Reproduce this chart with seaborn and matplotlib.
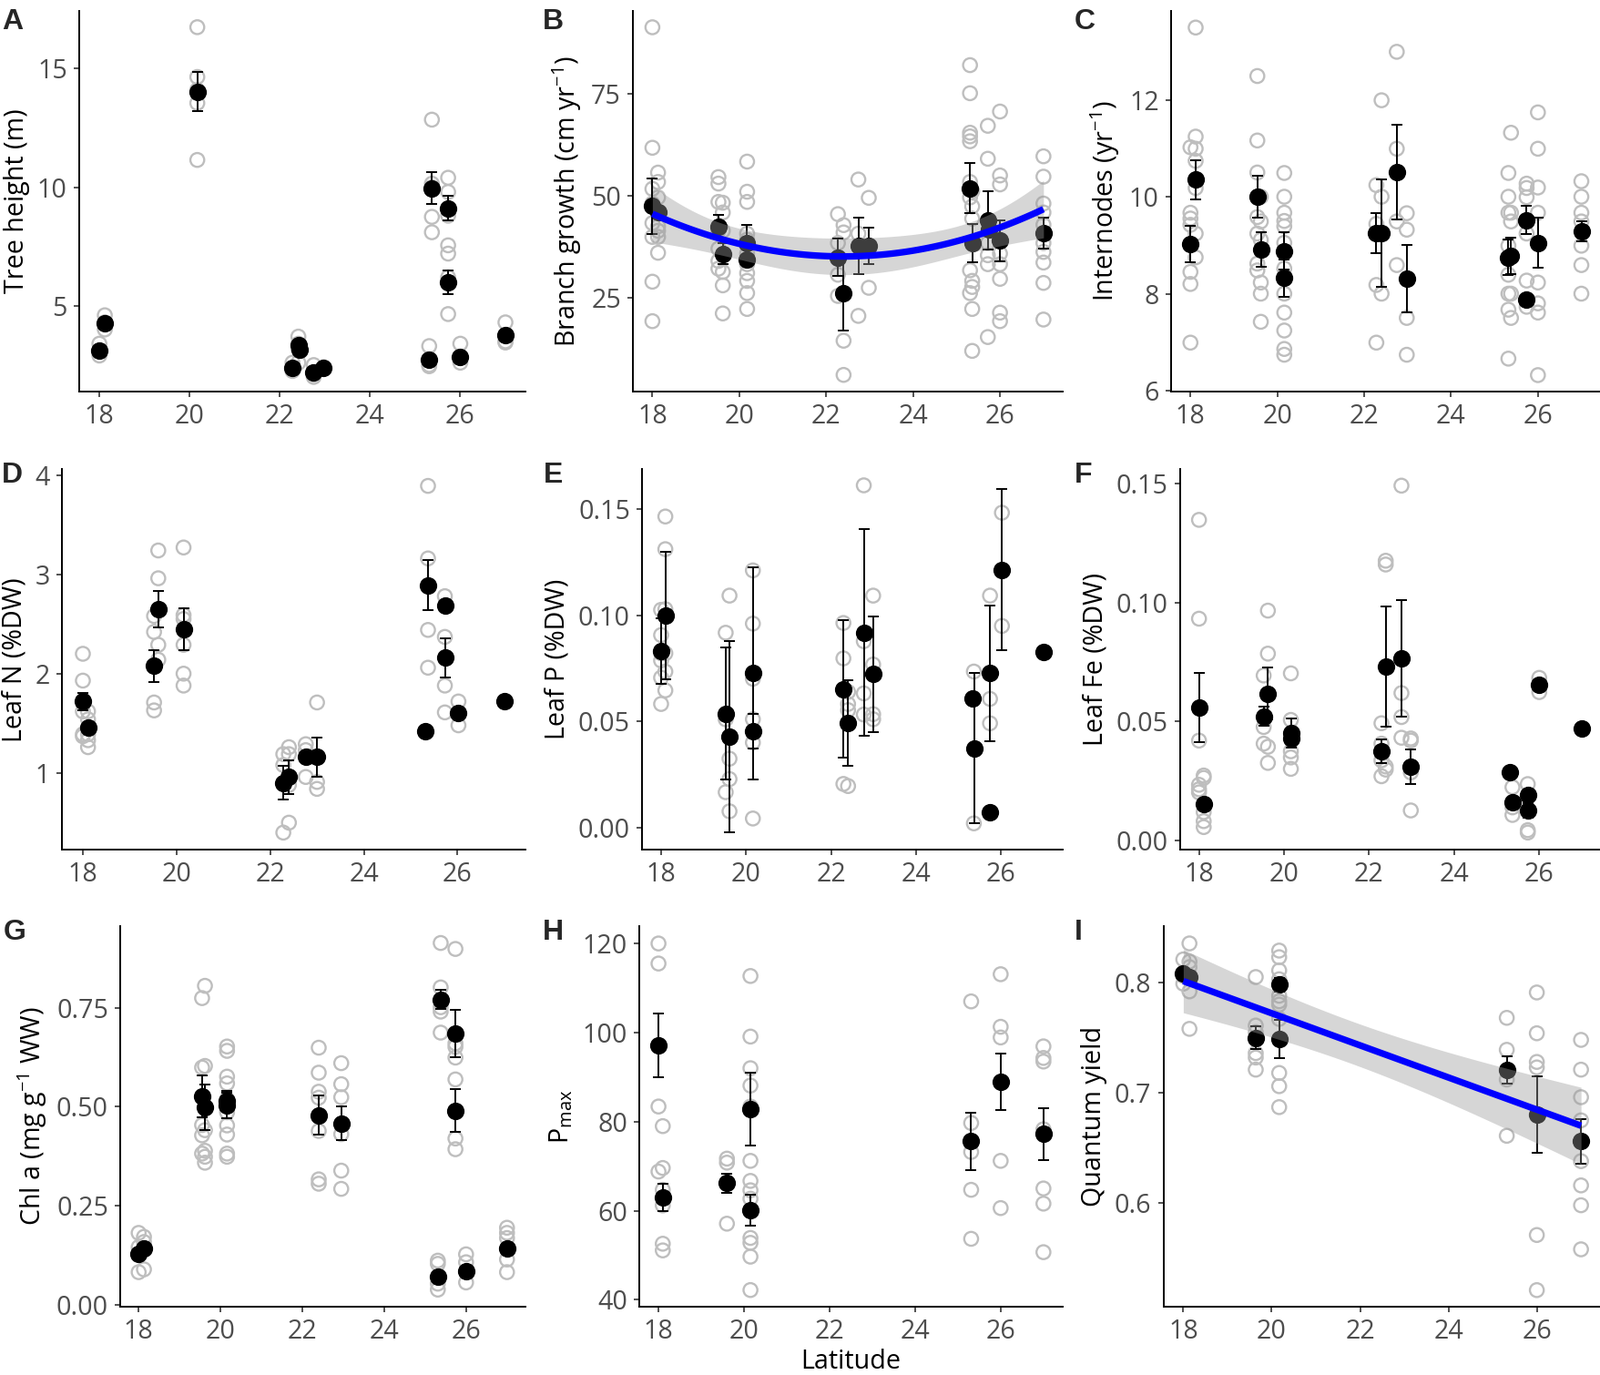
import math
import numpy as np
import pandas as pd
import matplotlib
matplotlib.use("Agg")
import matplotlib.pyplot as plt
import seaborn as sns

sns.set_style("ticks")
plt.rcParams["font.family"] = ["Open Sans", "DejaVu Sans"]
plt.rcParams["mathtext.default"] = "regular"

# ---------------- data ----------------
XTICKS = [18, 20, 22, 24, 26]

# A  Tree height
A_raw_lat = [18.0, 18.12, 20.17, 22.28, 22.41, 22.75, 22.97, 25.31, 25.37, 25.73, 26.0, 27.0]
A_raw = [[3.4, 3.1, 2.9], [4.6, 4.0, 4.3], [16.75, 14.65, 13.55, 11.15, 14.1],
         [2.6, 2.3, 2.25], [3.7, 3.4, 2.6, 3.2], [2.5, 2.1, 2.0], [2.35, 2.4],
         [3.3, 2.5, 2.45], [12.85, 10.15, 8.75, 8.1, 10.0],
         [10.4, 9.8, 8.8, 9.1, 7.55, 7.2, 6.2, 4.65, 6.0], [3.4, 2.6, 2.8], [4.3, 3.45, 3.5]]
A_mean_lat = [18.0, 18.12, 20.17, 22.28, 22.41, 22.43, 22.75, 22.97, 25.31, 25.37, 25.73, 25.73, 26.0, 27.0]
A_mean = [3.11, 4.26, 14.03, 2.38, 3.35, 3.15, 2.18, 2.37, 2.73, 9.96, 9.12, 5.99, 2.86, 3.75]
A_se = [0, 0, 0.83, 0, 0, 0, 0, 0, 0, 0.67, 0.5, 0.5, 0, 0]

# B  Branch growth
B_raw_lat = [18.0, 18.13, 19.52, 19.62, 20.18, 22.27, 22.4, 22.74, 22.98, 25.31, 25.36, 25.72, 26.0, 27.0]
B_raw = [[91.4, 61.8, 51.7, 48.1, 43.3, 39.9, 28.9, 19.2],
         [55.7, 53.4, 49.6, 45.9, 42.5, 41.4, 39.9, 36.0],
         [54.6, 53.0, 48.5, 41.4, 37.0, 34.0, 32.1],
         [48.3, 45.9, 41.4, 31.3, 28.0, 21.1],
         [58.4, 51.0, 48.5, 40.7, 39.2, 35.8, 33.2, 31.0, 29.1, 26.1, 22.2],
         [45.5, 38.4, 30.6, 25.4], [42.8, 41.0, 14.4, 6.0], [54.0, 40.7, 20.5], [49.5, 27.4],
         [82.1, 75.2, 65.5, 64.6, 63.4, 53.4, 49.6, 31.7, 26.1],
         [51.1, 47.4, 44.4, 29.1, 27.6, 22.2, 11.9],
         [67.2, 59.1, 38.4, 35.4, 33.2, 15.3],
         [70.7, 55.0, 52.8, 39.2, 35.8, 33.2, 29.6, 21.3, 19.2],
         [59.7, 54.7, 48.1, 45.9, 42.9, 38.4, 36.2, 33.6, 28.6, 19.6]]
B_mean_lat = [18.0, 18.13, 19.52, 19.62, 20.18, 20.18, 22.27, 22.4, 22.74, 22.98, 25.31, 25.36, 25.72, 25.75, 26.0, 27.0]
B_mean = [47.5, 46.0, 42.5, 35.8, 38.4, 34.3, 34.9, 26.0, 37.7, 37.7, 51.9, 38.4, 44.0, 41.8, 39.0, 40.8]
B_se = [6.8, 0, 2.9, 2.5, 4.4, 0, 4.5, 9.2, 6.9, 4.5, 6.1, 4.7, 7.2, 0, 5.0, 3.8]

# C  Internodes
C_raw_lat = [18.0, 18.12, 19.54, 19.62, 20.16, 22.28, 22.4, 22.75, 22.98, 25.32, 25.38, 25.74, 26.0, 27.0]
C_raw = [[11.02, 9.67, 9.55, 9.42, 9.02, 8.45, 8.2, 6.99],
         [13.49, 11.24, 10.99, 10.74, 10.18, 9.24, 8.75],
         [12.49, 11.16, 10.5, 10.0, 9.58, 9.24, 8.62, 8.48],
         [10.0, 9.49, 9.11, 8.23, 8.0, 7.42],
         [10.49, 10.0, 9.67, 9.5, 9.39, 9.05, 8.86, 8.52, 8.0, 7.61, 7.24, 6.86, 6.74],
         [10.24, 9.44, 8.18, 6.99], [11.99, 10.0, 8.0], [12.99, 10.99, 9.49, 8.59],
         [9.66, 9.32, 7.5, 6.74],
         [10.49, 10.0, 9.67, 8.99, 8.39, 8.0, 7.67, 6.66],
         [11.32, 9.67, 9.49, 8.0, 7.5],
         [10.27, 10.18, 9.99, 9.24, 8.27, 7.73],
         [11.74, 10.99, 10.19, 9.67, 8.23, 7.8, 7.61, 6.32],
         [10.32, 10.0, 9.67, 9.49, 8.99, 8.59, 8.0]]
C_mean_lat = [18.0, 18.12, 19.54, 19.62, 20.16, 20.16, 22.28, 22.4, 22.75, 22.98, 25.32, 25.38, 25.74, 25.74, 26.0, 27.0]
C_mean = [9.02, 10.35, 10.0, 8.91, 8.88, 8.32, 9.25, 9.25, 10.51, 8.31, 8.75, 8.78, 9.52, 7.87, 9.05, 9.29]
C_se = [0.38, 0.4, 0.43, 0.35, 0.38, 0.38, 0.42, 1.1, 0.97, 0.7, 0.36, 0.37, 0.29, 0, 0.52, 0.21]

# D  Leaf N
D_raw_lat = [18.0, 18.11, 19.52, 19.61, 20.15, 22.28, 22.4, 22.76, 23.0, 25.37, 25.73, 26.02]
D_raw = [[2.2, 1.93, 1.72, 1.62, 1.39, 1.37], [1.62, 1.54, 1.46, 1.39, 1.33, 1.26],
         [2.58, 2.42, 1.71, 1.63], [3.24, 2.96, 2.29, 2.14], [3.27, 2.59, 2.55, 2.29, 2.0, 1.88],
         [1.19, 1.08, 0.40], [1.26, 1.19, 0.88, 0.5], [1.29, 1.23, 0.96], [1.71, 0.91, 0.84],
         [3.89, 3.16, 2.44, 2.06], [2.78, 2.37, 1.88, 1.61], [1.72, 1.48]]
D_mean_lat = [18.0, 18.11, 19.52, 19.61, 20.15, 22.28, 22.4, 22.76, 23.0, 25.31, 25.37, 25.73, 25.73, 26.02, 27.0]
D_mean = [1.72, 1.46, 2.08, 2.65, 2.45, 0.90, 0.96, 1.16, 1.16, 1.42, 2.89, 2.69, 2.16, 1.6, 1.72]
D_se = [0.09, 0, 0.16, 0.18, 0.21, 0.17, 0.17, 0, 0.2, 0, 0.25, 0, 0.2, 0, 0]

# E  Leaf P
E_raw_lat = [18.0, 18.1, 19.52, 19.61, 20.16, 22.29, 22.4, 22.77, 22.99, 25.36, 25.74, 26.02]
E_raw = [[0.1026, 0.0907, 0.0821, 0.0787, 0.0706, 0.0582],
         [0.1466, 0.1312, 0.1029, 0.0821, 0.0735, 0.0646],
         [0.0918, 0.051, 0.0166], [0.1093, 0.0324, 0.0228, 0.0076],
         [0.1212, 0.0961, 0.0701, 0.051, 0.04, 0.0042],
         [0.0964, 0.0797, 0.0205], [0.0639, 0.0582, 0.0553, 0.0195],
         [0.1613, 0.0878, 0.0632, 0.0532], [0.1093, 0.0768, 0.0534, 0.051],
         [0.0735, 0.0019], [0.1093, 0.0606, 0.0491], [0.1484, 0.095]]
E_mean_lat = [18.0, 18.1, 19.52, 19.61, 20.16, 20.16, 22.29, 22.4, 22.77, 22.99, 25.33, 25.38, 25.74, 25.74, 26.02, 27.0]
E_mean = [0.0832, 0.100, 0.0537, 0.0428, 0.0728, 0.0454, 0.0653, 0.0493, 0.0918, 0.0722,
          0.0607, 0.0374, 0.0728, 0.0070, 0.1215, 0.0828]
E_se = [0.0155, 0.030, 0.031, 0.045, 0.050, 0.008, 0.0326, 0.0203, 0.0487, 0.0272,
        0, 0.0355, 0.032, 0, 0.038, 0]

# F  Leaf Fe
F_raw_lat = [18.0, 18.11, 19.52, 19.62, 20.16, 22.29, 22.39, 22.76, 22.98, 25.37, 25.73, 26.0]
F_raw = [[0.1348, 0.0932, 0.0419, 0.0233, 0.0214, 0.0201],
         [0.0272, 0.0262, 0.0118, 0.008, 0.0055],
         [0.0693, 0.0476, 0.0406], [0.0966, 0.0785, 0.0393, 0.0325],
         [0.0702, 0.0506, 0.0374, 0.0348, 0.03], [0.0492, 0.0406, 0.0336, 0.0269],
         [0.1176, 0.116, 0.031, 0.0297], [0.1492, 0.0619, 0.0518, 0.0431],
         [0.0428, 0.0419, 0.0285, 0.0125], [0.0223, 0.0138, 0.0106],
         [0.0236, 0.0042, 0.0032], [0.0683, 0.0623]]
F_mean_lat = [18.0, 18.11, 19.52, 19.62, 20.16, 20.16, 22.29, 22.39, 22.76, 22.98, 25.31, 25.37, 25.73, 25.73, 26.0, 27.0]
F_mean = [0.0557, 0.0153, 0.0521, 0.0617, 0.0451, 0.0428, 0.0374, 0.0732, 0.0764, 0.031,
          0.0285, 0.0159, 0.0191, 0.0125, 0.0655, 0.047]
F_se = [0.0146, 0, 0.004, 0.011, 0.006, 0, 0.0049, 0.0253, 0.0246, 0.0072, 0, 0, 0, 0.003, 0, 0]

# G  Chl a
G_raw_lat = [18.0, 18.13, 19.55, 19.62, 20.16, 22.4, 22.95, 25.31, 25.38, 25.74, 26.0, 27.0]
G_raw = [[0.182, 0.146, 0.128, 0.083], [0.172, 0.159, 0.142, 0.090],
         [0.774, 0.599, 0.527, 0.454, 0.428, 0.382],
         [0.805, 0.603, 0.441, 0.389, 0.374, 0.359],
         [0.652, 0.641, 0.576, 0.559, 0.519, 0.486, 0.453, 0.43, 0.382, 0.374],
         [0.649, 0.586, 0.538, 0.523, 0.439, 0.317, 0.306],
         [0.610, 0.557, 0.524, 0.431, 0.339, 0.293],
         [0.112, 0.104, 0.054, 0.039], [0.913, 0.801, 0.751, 0.74, 0.687],
         [0.898, 0.66, 0.651, 0.624, 0.569, 0.42, 0.393],
         [0.128, 0.108, 0.085, 0.057], [0.195, 0.182, 0.169, 0.142, 0.115, 0.083]]
G_mean_lat = [18.0, 18.13, 19.55, 19.62, 20.16, 20.16, 22.4, 22.95, 25.31, 25.38, 25.74, 25.74, 26.0, 27.0]
G_mean = [0.128, 0.142, 0.527, 0.498, 0.514, 0.504, 0.479, 0.458, 0.071, 0.770, 0.684, 0.490, 0.085, 0.142]
G_se = [0, 0, 0.053, 0.057, 0.025, 0.032, 0.049, 0.043, 0, 0.024, 0.06, 0.054, 0, 0]

# H  Pmax
H_raw_lat = [18.0, 18.1, 19.6, 20.15, 25.31, 26.0, 27.0]
H_raw = [[120.0, 115.5, 97.1, 83.4, 68.8], [79.0, 69.6, 64.7, 61.2, 52.6, 51.1],
         [71.7, 70.8, 66.2, 57.1],
         [112.7, 99.1, 92.0, 88.1, 83.4, 71.2, 66.7, 64.6, 62.7, 53.9, 52.8, 49.7, 42.2],
         [107.0, 79.7, 73.2, 64.7, 53.7], [113.1, 101.3, 98.9, 71.2, 60.6],
         [96.9, 94.3, 93.5, 78.3, 65.0, 61.6, 50.7]]
H_mean_lat = [18.0, 18.1, 19.6, 20.15, 20.15, 25.31, 26.0, 27.0]
H_mean = [97.1, 63.0, 66.2, 60.1, 82.8, 75.6, 89.0, 77.2]
H_se = [7.2, 3.1, 2.1, 3.5, 8.1, 6.4, 6.3, 5.9]

# I  Quantum yield
I_raw_lat = [18.0, 18.14, 19.64, 20.17, 25.32, 26.0, 27.0]
I_raw = [[0.821, 0.806, 0.799], [0.8355, 0.819, 0.814, 0.792, 0.758],
         [0.805, 0.761, 0.755, 0.736, 0.732, 0.721],
         [0.829, 0.823, 0.811, 0.803, 0.788, 0.783, 0.780, 0.767, 0.718, 0.706, 0.687],
         [0.768, 0.739, 0.712, 0.661], [0.791, 0.754, 0.728, 0.723, 0.571, 0.521],
         [0.748, 0.721, 0.696, 0.675, 0.638, 0.616, 0.598, 0.558]]
I_mean_lat = [18.0, 18.14, 19.64, 20.17, 20.17, 25.32, 26.0, 27.0]
I_mean = [0.808, 0.805, 0.750, 0.798, 0.749, 0.721, 0.680, 0.656]
I_se = [0, 0, 0.0103, 0.006, 0.0175, 0.0124, 0.0347, 0.0204]


# ---------------- helpers: least-squares fit with t-based 95% band ----------------
def t_ppf(p, df):
    c = math.gamma((df + 1) / 2) / (math.sqrt(df * math.pi) * math.gamma(df / 2))

    def cdf(x):
        g = np.linspace(0.0, x, 4001)
        return 0.5 + np.trapezoid(c * (1 + g ** 2 / df) ** (-(df + 1) / 2), g)

    lo, hi = 0.0, 50.0
    for _ in range(80):
        mid = 0.5 * (lo + hi)
        if cdf(mid) < p:
            lo = mid
        else:
            hi = mid
    return 0.5 * (lo + hi)


def poly_band(x, y, order, n=120):
    x = np.asarray(x, float)
    y = np.asarray(y, float)
    X = np.vander(x, order + 1)
    beta, *_ = np.linalg.lstsq(X, y, rcond=None)
    dof = len(x) - (order + 1)
    s2 = np.sum((y - X @ beta) ** 2) / dof
    cov = s2 * np.linalg.inv(X.T @ X)
    xg = np.linspace(x.min(), x.max(), n)
    Xg = np.vander(xg, order + 1)
    yg = Xg @ beta
    se = np.sqrt(np.einsum("ij,jk,ik->i", Xg, cov, Xg))
    t = t_ppf(0.975, dof)
    return xg, yg, yg - t * se, yg + t * se


# ---------------- figure ----------------
fig = plt.figure(figsize=(8.79, 7.55), dpi=200)

GREY = "#BEBEBE"
TICK_COL = "#4D4D4D"


def panel(rect, letter, letter_xy, raw_lat, raw, mlat, mval, mse, ylabel,
          yticks, ylim, yfmt=None, fit_order=None, xlabel=None):
    ax = fig.add_axes(rect)
    raw_df = pd.DataFrame({
        "lat": np.repeat(raw_lat, [len(v) for v in raw]),
        "val": np.concatenate([np.asarray(v, float) for v in raw]),
    })
    sns.scatterplot(data=raw_df, x="lat", y="val", ax=ax, s=30,
                    facecolors="none", edgecolor=GREY, linewidth=0.85, zorder=1)
    mean_df = pd.DataFrame({"lat": mlat, "val": mval, "se": mse})
    ax.errorbar(mean_df["lat"], mean_df["val"], yerr=mean_df["se"], fmt="none",
                ecolor="black", elinewidth=0.7, capsize=2.2, capthick=0.7, zorder=2)
    sns.scatterplot(data=mean_df, x="lat", y="val", ax=ax, s=48, color="black",
                    linewidth=0, zorder=3)
    if fit_order is not None:
        xg, yg, lo, hi = poly_band(mlat, mval, fit_order)
        ax.fill_between(xg, lo, hi, color="#999999", alpha=0.4, linewidth=0, zorder=4)
        sns.lineplot(x=xg, y=yg, ax=ax, color="#0000FF", lw=2.6, estimator=None,
                     sort=False, zorder=5, solid_capstyle="butt")
    ax.set_xlim(17.55, 27.45)
    ax.set_xticks(XTICKS)
    ax.set_ylim(*ylim)
    ax.set_yticks(yticks)
    if yfmt:
        ax.set_yticklabels([yfmt.format(t) for t in yticks])
    sns.despine(ax=ax)
    for s in ("left", "bottom"):
        ax.spines[s].set_linewidth(0.7)
        ax.spines[s].set_color("black")
    ax.tick_params(axis="both", labelsize=10.3, labelcolor=TICK_COL, length=2.2,
                   width=0.6, color="#333333", pad=2.5)
    ax.set_ylabel(ylabel, fontsize=10.3, color="black", labelpad=3)
    ax.set_xlabel(xlabel if xlabel else "", fontsize=10.3, color="black", labelpad=1.5)
    fig.text(letter_xy[0], letter_xy[1], letter, ha="left", va="top",
             fontsize=11.5, fontweight="bold", family=["Liberation Sans", "DejaVu Sans"])
    return ax


panel((0.0494, 0.7152, 0.2790, 0.2771), "A", (0.001, 0.994),
      A_raw_lat, A_raw, A_mean_lat, A_mean, A_se, "Tree height (m)",
      [5, 10, 15], (1.38, 17.45))
panel((0.3953, 0.7152, 0.2687, 0.2771), "B", (0.339, 0.994),
      B_raw_lat, B_raw, B_mean_lat, B_mean, B_se,
      "Branch growth (cm yr$^{-1}$)", [25, 50, 75], (1.9, 95.5), fit_order=2)
panel((0.7314, 0.7152, 0.2686, 0.2771), "C", (0.671, 0.994),
      C_raw_lat, C_raw, C_mean_lat, C_mean, C_se,
      "Internodes (yr$^{-1}$)", [6, 8, 10, 12], (5.98, 13.84))

panel((0.0386, 0.3819, 0.2896, 0.2770), "D", (0.001, 0.664),
      D_raw_lat, D_raw, D_mean_lat, D_mean, D_se, "Leaf N (%DW)",
      [1, 2, 3, 4], (0.226, 4.06))
panel((0.4010, 0.3819, 0.2628, 0.2770), "E", (0.3395, 0.664),
      E_raw_lat, E_raw, E_mean_lat, E_mean, E_se, "Leaf P (%DW)",
      [0.0, 0.05, 0.10, 0.15], (-0.0106, 0.169), yfmt="{:.2f}")
panel((0.7370, 0.3819, 0.2630, 0.2770), "F", (0.671, 0.664),
      F_raw_lat, F_raw, F_mean_lat, F_mean, F_se, "Leaf Fe (%DW)",
      [0.0, 0.05, 0.10, 0.15], (-0.0041, 0.1562), yfmt="{:.2f}")

panel((0.0751, 0.0497, 0.2531, 0.2766), "G", (0.002, 0.332),
      G_raw_lat, G_raw, G_mean_lat, G_mean, G_se,
      "Chl a (mg g$^{-1}$ WW)", [0.0, 0.25, 0.50, 0.75], (-0.004, 0.955), yfmt="{:.2f}")
panel((0.3993, 0.0497, 0.2645, 0.2766), "H", (0.339, 0.332),
      H_raw_lat, H_raw, H_mean_lat, H_mean, H_se,
      "P$_{max}$", [40, 60, 80, 100, 120], (38.47, 123.85), xlabel="Latitude")
panel((0.7267, 0.0497, 0.2733, 0.2766), "I", (0.671, 0.332),
      I_raw_lat, I_raw, I_mean_lat, I_mean, I_se, "Quantum yield",
      [0.6, 0.7, 0.8], (0.506, 0.851), yfmt="{:.1f}", fit_order=1)

fig.savefig("out.png", dpi=200, facecolor="white")
